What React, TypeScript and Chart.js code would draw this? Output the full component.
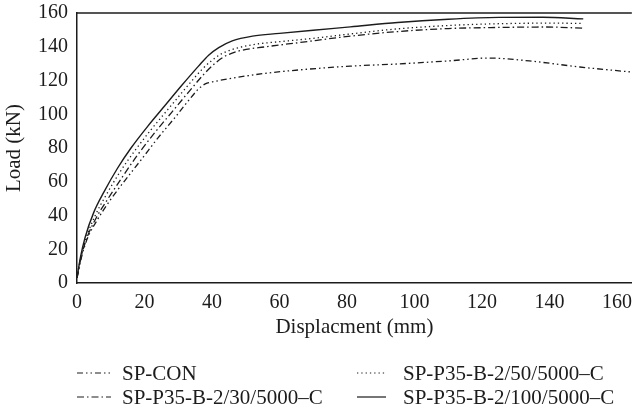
import React, { useEffect, useRef } from "react";
import { Chart, registerables } from "chart.js";

Chart.register(...registerables);

// ---- Data (displacement mm, load kN) ----
const seriesNames = [
  "SP-CON",
  "SP-P35-B-2/30/5000\u2013C",
  "SP-P35-B-2/50/5000\u2013C",
  "SP-P35-B-2/100/5000\u2013C",
];

const conX = [0, 1.3, 3, 6.2, 9.8, 14.3, 19, 24, 29, 33, 36, 38, 41, 46, 56, 66, 81, 95, 110, 122, 134, 149, 164.4];
const conY = [3, 15, 26, 38, 49, 61, 73, 86, 98, 108, 115, 118, 119.5, 121.4, 124.3, 126.3, 128.5, 129.8, 131.6, 133.3, 131.6, 128, 125];

const p30X = [0, 1.2, 2.8, 5.8, 9.2, 13.5, 18, 23, 28, 33, 37.5, 40.5, 43.5, 48, 56, 66, 81, 95, 110, 124, 139, 150];
const p30Y = [3, 15, 26, 39, 50, 63, 76, 89, 101, 113, 123.5, 129.5, 134, 137.5, 140, 142.5, 146.3, 149, 150.8, 151.4, 151.7, 151];

const p50X = [0, 1.1, 2.6, 5.4, 8.6, 12.8, 17, 22, 27, 32, 37, 40, 43, 47, 53, 60, 70, 81, 95, 110, 124, 140, 150];
const p50Y = [3, 15, 26, 40, 52, 66, 78, 91, 103, 115, 126.5, 132, 136, 139, 141.5, 143, 145, 147.6, 150.6, 152.6, 153.6, 154, 153.8];

const p100X = [0, 1, 2.4, 5, 8, 12, 16, 21, 26, 31, 36, 39, 42, 46, 52, 60, 70, 81, 95, 110, 125, 138, 150];
const p100Y = [3, 15, 27, 42, 54, 68, 80, 93, 105, 117, 128.5, 135, 139.5, 143.5, 146.3, 147.9, 149.8, 151.8, 154.4, 156.3, 157.4, 157.5, 156.5];

const xTicksMax = 160;
const yTicksMax = 160;

const FONT = "'Liberation Serif', 'Times New Roman', serif";
const INK = "#1c1c1c";

const dashes: number[][] = [
  [6, 3, 1.5, 3, 1.5, 3],
  [7, 3, 1.5, 3],
  [1.3, 3],
  [],
];

function pts(xs: number[], ys: number[]) {
  return xs.map((x, i) => ({ x, y: ys[i] }));
}

const legendPlugin = {
  id: "customLegend",
  afterDraw(chart: any) {
    const ctx = chart.ctx;
    const rows = [373, 397];
    const cols = [
      { s0: 77, s1: 111, t: 122 },
      { s0: 357, s1: 386, t: 403 },
    ];
    const layout = [
      { i: 0, r: 0, c: 0 },
      { i: 1, r: 1, c: 0 },
      { i: 2, r: 0, c: 1 },
      { i: 3, r: 1, c: 1 },
    ];
    ctx.save();
    layout.forEach(({ i, r, c }) => {
      const y = rows[r];
      const col = cols[c];
      ctx.beginPath();
      ctx.strokeStyle = INK;
      ctx.lineWidth = 1.2;
      ctx.setLineDash(dashes[i]);
      ctx.moveTo(col.s0, y);
      ctx.lineTo(col.s1, y);
      ctx.stroke();
      ctx.setLineDash([]);
      ctx.fillStyle = INK;
      ctx.font = `21px ${FONT}`;
      ctx.textBaseline = "middle";
      ctx.textAlign = "left";
      ctx.fillText(chart.data.datasets[i].label, col.t, y + 1);
    });
    const a = chart.chartArea;
    ctx.beginPath();
    ctx.strokeStyle = INK;
    ctx.lineWidth = 1.5;
    ctx.moveTo(a.left, a.top);
    ctx.lineTo(a.right, a.top);
    ctx.stroke();
    ctx.restore();
  },
};

export default function App() {
  const ref = useRef<HTMLCanvasElement | null>(null);

  useEffect(() => {
    document.body.style.margin = "0";
    const canvas = ref.current;
    if (!canvas) return;
    const data = [pts(conX, conY), pts(p30X, p30Y), pts(p50X, p50Y), pts(p100X, p100Y)];
    const chart = new Chart(canvas, {
      type: "line",
      data: {
        datasets: seriesNames.map((name, i) => ({
          label: name,
          data: data[i],
          borderColor: INK,
          borderWidth: i === 3 ? 1.4 : 1.3,
          borderDash: dashes[i],
          pointRadius: 0,
          fill: false,
          cubicInterpolationMode: "monotone" as const,
        })),
      },
      options: {
        responsive: false,
        animation: false,
        layout: { padding: { top: 12, right: 0, bottom: 74, left: 0 } },
        plugins: {
          legend: { display: false },
          tooltip: { enabled: false },
        },
        scales: {
          x: {
            type: "linear",
            min: 0,
            max: 164.4,
            grid: { display: false },
            border: { display: true, color: INK, width: 1.5 },
            ticks: {
              stepSize: 20,
              includeBounds: false,
              padding: 0,
              color: INK,
              font: { family: FONT, size: 20 },
              maxRotation: 0,
              callback: (v: any) => (Number(v) <= xTicksMax ? String(v) : ""),
            },
            title: {
              display: true,
              text: "Displacment (mm)",
              color: INK,
              font: { family: FONT, size: 21 },
              padding: { top: 2, bottom: 0 },
            },
            afterFit: (s: any) => {
              s.height = 57;
            },
          },
          y: {
            type: "linear",
            min: 0,
            max: yTicksMax,
            grid: { display: false },
            border: { display: true, color: INK, width: 1.5 },
            ticks: {
              stepSize: 20,
              padding: 1,
              color: INK,
              font: { family: FONT, size: 20 },
            },
            title: {
              display: true,
              text: "Load (kN)",
              color: INK,
              font: { family: FONT, size: 21 },
              padding: { top: 2, bottom: 4 },
            },
            afterFit: (s: any) => {
              s.width = 77;
            },
          },
        },
      },
      plugins: [legendPlugin],
    });
    return () => chart.destroy();
  }, []);

  return <canvas ref={ref} width={632} height={414} style={{ display: "block" }} />;
}
